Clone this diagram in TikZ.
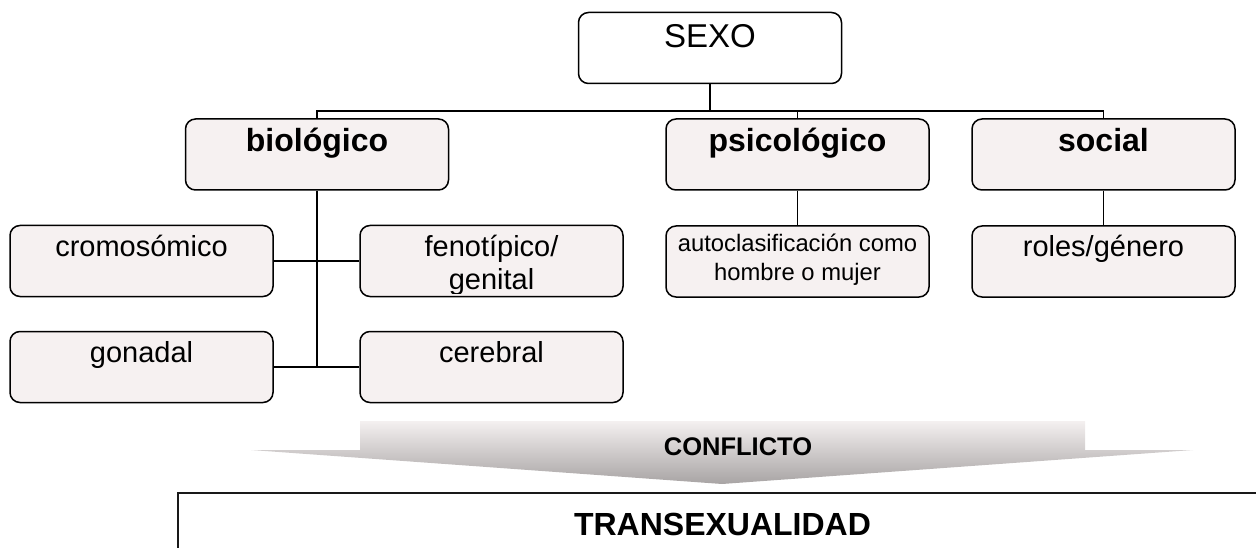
\documentclass[tikz,border=0pt]{standalone}
\usepackage{fontspec}
\setmainfont{Liberation Sans}
\definecolor{boxfill}{HTML}{F6F1F1}
\definecolor{arrtop}{HTML}{F4F0F0}
\definecolor{arrbot}{HTML}{A8A4A4}
\begin{document}
\begin{tikzpicture}[x=1pt,y=-1pt,
  box/.style={draw=black, line width=1.5pt, rounded corners=10pt, fill=boxfill,
    minimum width=263pt, minimum height=71pt, inner sep=0pt},
  lbl/.style={inner sep=0pt, anchor=base, text=black},
  conn/.style={draw=black, line width=1.5pt},
  head/.style={lbl, font=\fontsize{32}{36}\selectfont\bfseries},
  leaf/.style={lbl, font=\fontsize{29}{33}\selectfont},
  small/.style={lbl, font=\fontsize{23.8}{28}\selectfont}]
\useasboundingbox (0,0) rectangle (1256,548);
\clip (0,0) rectangle (1256,548);

% boxes
\node[box, fill=white] (sexo) at (710,48) {};
\node[box] (bio) at (317,154.5) {};
\node[box] (psi) at (797.5,154.5) {};
\node[box] (soc) at (1103.5,154.5) {};
\node[box] (cro) at (141.5,261) {};
\node[box] (fen) at (491.5,261) {};
\node[box] (auto) at (797.5,261.5) {};
\node[box] (rol) at (1103.5,261.5) {};
\node[box] (gon) at (141.5,367) {};
\node[box] (cer) at (491.5,367) {};

% connectors
\coordinate (bus) at (317,111);
\draw[conn] (sexo.south) -- (sexo.south |- bus);
\draw[conn] (bio.north) -- (bio.north |- bus) -| (soc.north);
\draw[conn] (psi.north) -- (psi.north |- bus);
\draw[conn] (psi.south) -- (auto.north);
\draw[conn] (soc.south) -- (rol.north);
\draw[conn] (bio.south) -- (bio.south |- gon.east);
\draw[conn] (cro.east) -- (fen.west);
\draw[conn] (gon.east) -- (cer.west);

% texts
\node[lbl, font=\fontsize{33}{38}\selectfont] (sexoT) at (710,48) {SEXO};
\node[head] (bioT) at (317,152) {biológico};
\node[head] (psiT) at (797.5,152) {psicológico};
\node[head] (socT) at (1103.5,152) {social};
\node[leaf] (croT) at (141.5,257) {cromosómico};
\begin{scope}
  \clip (360,226) rectangle (623,293);
  \node[leaf] (fenA) at (491.5,257) {fenotípico/};
  \node[leaf] (fenB) at (491.5,290) {genital};
\end{scope}
\node[small] (autoA) at (797.5,252) {autoclasificación como};
\node[small] (autoB) at (797.5,280) {hombre o mujer};
\node[leaf] (rolT) at (1103.5,257) {roles/género};
\node[leaf] (gonT) at (141.5,362) {gonadal};
\node[leaf] (cerT) at (491.5,362) {cerebral};

% conflict arrow
\shade[top color=arrtop, bottom color=arrbot]
  (360,421) -- (1085,421) -- (1085,450) -- (1193,450) -- (722,484)
  -- (251,450) -- (360,450) -- cycle;
\node[lbl, font=\fontsize{25.5}{30}\selectfont\bfseries] (confT) at (738,455) {CONFLICTO};

% result box
\draw[draw=black!90, line width=2pt] (178,600) -- (178,493) -- (1280,493);
\node[head] (transT) at (722.5,535) {TRANSEXUALIDAD};
\end{tikzpicture}
\end{document}
